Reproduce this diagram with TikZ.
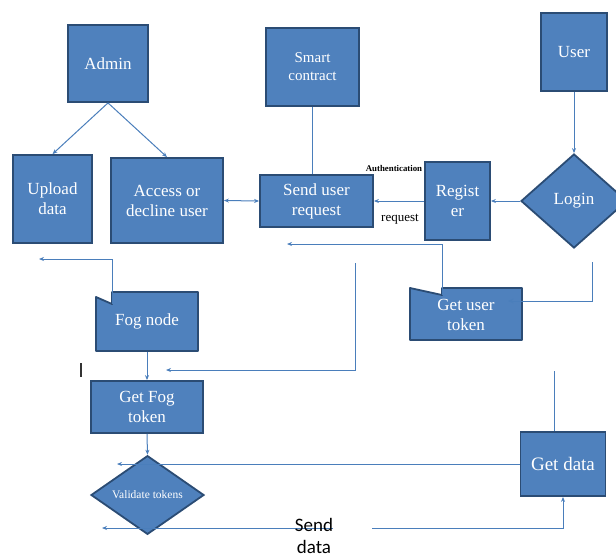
\documentclass[tikz,border=0pt]{standalone}
\usepackage{fontspec}
\setmainfont{Liberation Serif}
\newfontfamily\calibriFont{Carlito}
\usetikzlibrary{calc, shapes.geometric, arrows.meta}

\begin{document}
\begin{tikzpicture}[x=1pt, y=-1pt,
    box/.style={draw=borderColour, fill=fillColour, line width=1.8pt, text=white, align=center, inner sep=0pt, font=\fontsize{17}{20}\selectfont},
    decision/.style={box, diamond},
    link/.style={draw=lineColour, line width=1pt, -{Stealth[length=5pt, width=4pt]}},
    twoway/.style={draw=lineColour, line width=1pt, {Stealth[length=5pt, width=4pt]}-{Stealth[length=5pt, width=4pt]}},
    plainlink/.style={draw=lineColour, line width=1pt}]
    % Define colours
    \definecolor{borderColour}{HTML}{2B4C74}
    \definecolor{fillColour}{HTML}{4F81BD}
    \definecolor{lineColour}{HTML}{4A7EBB}

    % Page size
    \useasboundingbox (0,0) rectangle (616,558);
    \clip (0,0) rectangle (616,558);

  % Top row of boxes
  \node[box, minimum width=80pt, minimum height=77pt] (admin) at (108,63.5) {Admin};
  \node[box, minimum width=79pt, minimum height=88pt] (upload) at (52.5,199) {Upload\\data};
  \node[box, minimum width=112pt, minimum height=85pt] (access) at (167,200.5) {Access or\\decline user};
  \node[box, minimum width=93pt, minimum height=78pt, font=\fontsize{15}{18}\selectfont] (smart) at (312.5,67) {Smart\\contract};
  \node[box, minimum width=113pt, minimum height=52pt] (sendreq) at (316.5,201) {Send user\\request};
  \node[box, minimum width=65pt, minimum height=78pt] (register) at (457.5,201) {Regist\\er};
  \node[decision, minimum width=106pt, minimum height=94pt] (login) at (574,201) {Login};
  \node[box, minimum width=66pt, minimum height=78pt] (user) at (574,52) {User};

  % Flag shaped boxes (corner notch at the top left)
  \coordinate (fogNW) at (96,292);
  \coordinate (fogNotch) at ($(fogNW)+(16,12)$);
  \filldraw[draw=borderColour, fill=fillColour, line width=1.8pt, line join=round]
    ($(fogNW)+(0,5)$) -- (fogNotch) -- ($(fogNW)+(16,0)$) -- (198,292) -- (198,351) -- (96,351) -- cycle;
  \node[box, draw=none, fill=none, minimum width=102pt, minimum height=59pt] (fognode) at (147,321.5) {Fog node};

  \coordinate (tokNW) at (410,288);
  \coordinate (tokNotch) at ($(tokNW)+(32,7)$);
  \filldraw[draw=borderColour, fill=fillColour, line width=1.8pt, line join=round]
    (tokNW) -- (tokNotch) -- ($(tokNW)+(32,0)$) -- (522,288) -- (522,340) -- (410,340) -- cycle;
  \node[box, draw=none, fill=none, minimum width=112pt, minimum height=52pt] (usertok) at (466,315) {Get user\\token};

  % Lower boxes
  \node[box, minimum width=112pt, minimum height=52pt] (fogtok) at (147,407) {Get Fog\\token};
  \node[decision, minimum width=113pt, minimum height=66pt, font=\fontsize{11.5}{13}\selectfont] (validate) at (147.5,495) {Validate tokens};
  \node[box, minimum width=85pt, minimum height=64pt, font=\fontsize{19}{22}\selectfont] (getdata) at (563,464) {Get data};

  % Labels
  \node[font=\bfseries\fontsize{8.8}{10}\selectfont] (authLabel) at (394,168) {Authentication};
  \node[font=\fontsize{13}{15}\selectfont] (reqLabel) at (400,219) {request};

  % Connectors between the boxes
  \draw[link] (admin.south) -- (upload.north);
  \draw[link] (admin.south) -- (access.north);
  \draw[twoway] (access.east) -- (sendreq.west);
  \draw[plainlink] (smart.south) -- (smart.south |- sendreq.north);
  \draw[link] (register.west) -- (sendreq.east);
  \draw[link] (login.west) -- (register.east);
  \draw[link] (user.south) -- (login.north);
  \draw[link] (fognode.south) -- (fogtok.north);
  \draw[link] (fogtok.south) -- (validate.north);

  % Loose connectors
  \coordinate (tokBack) at (287,244);
  \draw[link] (tokNotch) |- (tokBack);
  \coordinate (loginOut) at (592,262);
  \coordinate (tokIn) at (508,301);
  \draw[link] (loginOut) |- (tokIn);
  \coordinate (fogBack) at (39,259);
  \draw[link] (fogNotch) |- (fogBack);
  \coordinate (reqDown) at (355,263);
  \coordinate (reqBack) at (166,370);
  \draw[link] (reqDown) |- (reqBack);
  \coordinate (dataBack) at (117,464);
  \draw[link] (getdata.west) -- (dataBack);
  \coordinate (dataUp) at (554,371);
  \draw[plainlink] (getdata.north -| dataUp) -- (dataUp);

  % Send data along the bottom
  \coordinate (sendStart) at (333,528);
  \coordinate (sendEnd) at (102,528);
  \draw[link] (sendStart) -- (sendEnd);
  \coordinate (sendGo) at (372,528);
  \draw[link] (sendGo) -| (getdata.south);
  \node[font=\calibriFont\fontsize{19}{22}\selectfont, align=center, inner sep=1pt] (senddata) at (314,536) {Send\\data};

  % Text cursor mark
  \coordinate (cursorTop) at (81,363);
  \draw[line width=1.3pt, black!80] (cursorTop) -- ++(0,14);

\end{tikzpicture}
\end{document}
